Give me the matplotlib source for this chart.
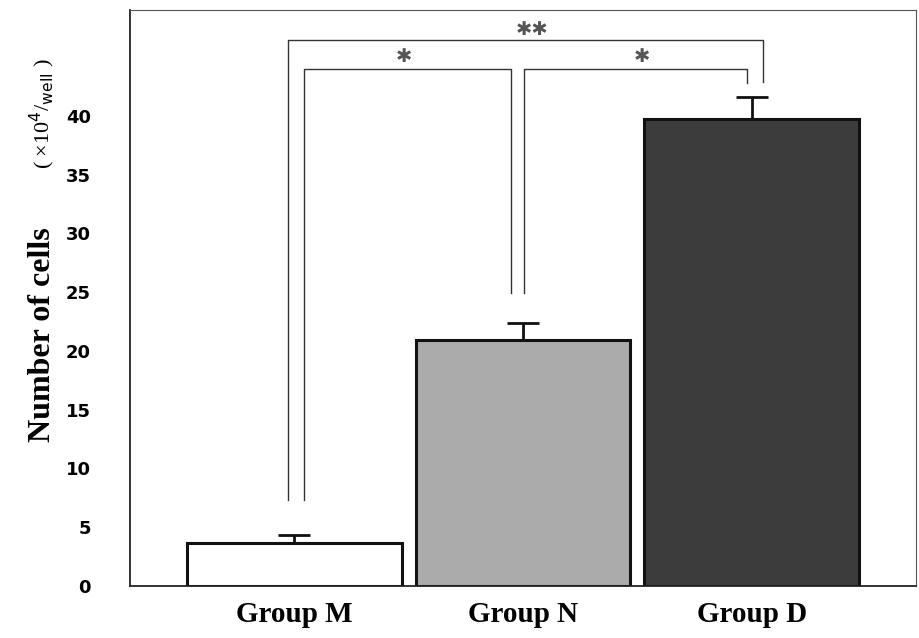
import numpy as np
import matplotlib
matplotlib.use("Agg")
import matplotlib.pyplot as plt
from matplotlib.ticker import MultipleLocator

# data
groups = ["Group M", "Group N", "Group D"]
means = [3.7, 20.9, 39.7]
errors = [0.6, 1.5, 1.9]
bar_colors = ["#ffffff", "#ababab", "#3c3c3c"]
yticks = [0, 5, 10, 15, 20, 25, 30, 35, 40]

# significance brackets: (x left, x right, top, left leg end, right leg end, label)
brackets = [
    (-0.026, 2.05, 46.5, 7.3, 42.9, "✱✱"),
    (0.04, 0.947, 44.0, 7.3, 24.9, "✱"),
    (1.004, 1.98, 44.0, 24.9, 42.8, "✱"),
]
star_pos = [(1.04, 47.4), (0.48, 45.1), (1.52, 45.1)]

fig = plt.figure(figsize=(9.2, 6.38), dpi=100)
ax = fig.add_axes([0.141, 0.0815, 0.855, 0.9025])

x = np.arange(len(groups))
ax.bar(x, means, width=0.94, color=bar_colors, edgecolor="#111111", linewidth=2.2, zorder=2)
ax.errorbar(x, means, yerr=[np.zeros(3), errors], fmt="none", ecolor="#111111",
            elinewidth=2, capsize=11.5, capthick=2, zorder=3)

for (xl, xr, top, yl, yr, lab), (sx, sy) in zip(brackets, star_pos):
    ax.plot([xl, xl, xr, xr], [yl, top, top, yr], color="#333333", lw=1.0, zorder=1)
    ax.text(sx, sy, lab, ha="center", va="center", fontsize=14, color="#555555",
            family=["DejaVu Sans"])

ax.set_xlim(-0.72, 2.72)
ax.set_ylim(0, 49)

ax.set_xticks(x)
ax.set_xticklabels(groups, family=["Liberation Serif", "DejaVu Serif"], fontweight="bold", fontsize=21)
ax.tick_params(axis="x", length=0, pad=11)

ax.set_yticks(yticks)
ax.set_yticklabels([str(v) for v in yticks], family=["Liberation Sans Narrow", "DejaVu Sans"],
                   fontweight="bold", fontsize=13)
ax.tick_params(axis="y", which="major", length=0, pad=28)
ax.yaxis.set_minor_locator(MultipleLocator(10))
ax.tick_params(axis="y", which="minor", direction="in", length=7, width=1)

for side in ["left", "bottom"]:
    ax.spines[side].set_linewidth(1.3)
    ax.spines[side].set_color("#222222")
for side in ["top", "right"]:
    ax.spines[side].set_linewidth(0.8)
    ax.spines[side].set_color("#555555")

fig.text(0.046, 0.475, "Number of cells", rotation=90, ha="center", va="center",
         family=["Liberation Serif", "DejaVu Serif"], fontweight="bold", fontsize=23)
fig.text(0.046, 0.822, "( ×10$^{4}$/$_{\\rm well}$ )", rotation=90, ha="center", va="center",
         family=["Liberation Serif", "DejaVu Serif"], fontsize=16)

fig.savefig("out.png", dpi=100)
